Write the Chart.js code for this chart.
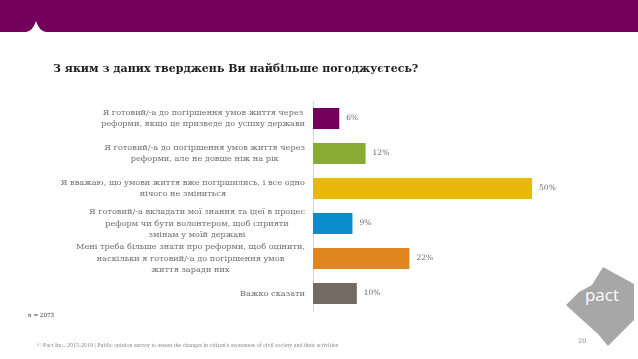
<!DOCTYPE html>
<html>
<head>
<meta charset="utf-8">
<script src="https://cdn.jsdelivr.net/npm/chart.js@4.4.1/dist/chart.umd.min.js"></script>
<style>
  html, body { margin: 0; padding: 0; background: #fff; }
  #page { position: relative; width: 638px; height: 359px; overflow: hidden; font-family: 'DejaVu Serif', serif; }
  #chart { position: absolute; left: 0; top: 0; }
  .title { position: absolute; left: 53px; top: 62px; font-size: 11px; font-weight: bold; color: #1e1e1e; white-space: nowrap; }
  .n { position: absolute; left: 28px; top: 312px; font-size: 5.6px; color: #333; }
  .foot { position: absolute; left: 37px; top: 342px; font-family: 'Liberation Serif', serif; font-size: 6px; color: #888; white-space: nowrap; }
  .pg { position: absolute; left: 578px; top: 337px; font-size: 6.5px; color: #888; }
  svg { position: absolute; left: 0; top: 0; }
</style>
</head>
<body>
<div id="page">
  <svg width="638" height="359">
    <rect x="0" y="0" width="638" height="32" fill="#74005d"/>
    <path d="M26 32 Q33 31 36 21 Q39 31 46 32 Z" fill="#fff"/>
    <polygon points="603,267 634,284 634,320 608,346 598,334 588,325 578,316 566,305 579,292 592,285" fill="#a7a7a7"/>
    <text x="602" y="301" text-anchor="middle" font-family="Open Sans, sans-serif" font-size="17" fill="#fff">pact</text>
  </svg>
  <canvas id="chart" width="638" height="359"></canvas>
  <div class="title">З яким з даних тверджень Ви найбільше погоджуєтесь?</div>
  <div class="n">n = 2073</div>
  <div class="foot">© Pact Inc., 2015-2019 | Public opinion survey to assess the changes in citizen's awareness of civil society and their activities</div>
  <div class="pg">20</div>
</div>
<script>
const categories = [
  ['Я готовий/-а до погіршення умов життя через', 'реформи, якщо це призведе до успіху держави'],
  ['Я готовий/-а до погіршення умов життя через', 'реформи, але не довше ніж на рік'],
  ['Я вважаю, що умови життя вже погіршились, і все одно', 'нічого не зміниться'],
  ['Я готовий/-а вкладати мої знання та ідеї в процес', 'реформ чи бути волонтером, щоб сприяти', 'змінам у моїй державі'],
  ['Мені треба більше знати про реформи, щоб оцінити,', 'наскільки я готовий/-а до погіршення умов', 'життя заради них'],
  ['Важко сказати']
];
const values = [6, 12, 50, 9, 22, 10];
const barColors = ['#74005d', '#8aab33', '#e8b80b', '#0a8dc9', '#e0861f', '#736a64'];

// підписи категорій: блок притиснутий праворуч, рядки по центру
const categoryLabels = {
  id: 'categoryLabels',
  afterDraw(chart) {
    const ctx = chart.ctx;
    const yScale = chart.scales.y;
    const lineH = 11.5;
    ctx.save();
    ctx.font = '8.2px "DejaVu Serif"';
    ctx.fillStyle = '#6e6e6e';
    ctx.textAlign = 'center';
    ctx.textBaseline = 'middle';
    categories.forEach((lines, i) => {
      const yc = yScale.getPixelForValue(i);
      const w = Math.max(...lines.map(l => ctx.measureText(l).width));
      const xc = chart.chartArea.left - 8 - w / 2;
      lines.forEach((l, k) => {
        ctx.fillText(l, xc, yc + (k - (lines.length - 1) / 2) * lineH);
      });
    });
    ctx.restore();
  }
};

// підписи значень праворуч від стовпців
const valueLabels = {
  id: 'valueLabels',
  afterDatasetsDraw(chart) {
    const ctx = chart.ctx;
    const meta = chart.getDatasetMeta(0);
    ctx.save();
    ctx.font = '7.5px "DejaVu Serif"';
    ctx.fillStyle = '#666';
    ctx.textBaseline = 'middle';
    meta.data.forEach((bar, i) => {
      ctx.fillText(values[i] + '%', bar.x + 7, bar.y);
    });
    ctx.restore();
  }
};

new Chart(document.getElementById('chart'), {
  type: 'bar',
  data: {
    labels: categories,
    datasets: [{
      data: values,
      backgroundColor: barColors,
      categoryPercentage: 1,
      barPercentage: 0.6
    }]
  },
  options: {
    responsive: false,
    animation: false,
    indexAxis: 'y',
    layout: { padding: { top: 101, bottom: 48, left: 0, right: 84 } },
    plugins: { legend: { display: false }, tooltip: { enabled: false } },
    scales: {
      x: { display: false, min: 0, max: 55 },
      y: {
        afterFit: s => { s.width = 313; },
        grid: { display: false, drawTicks: false },
        border: { color: '#d6d6d6', width: 1 },
        ticks: { display: false, autoSkip: false }
      }
    }
  },
  plugins: [valueLabels, categoryLabels]
});
</script>
</body>
</html>
